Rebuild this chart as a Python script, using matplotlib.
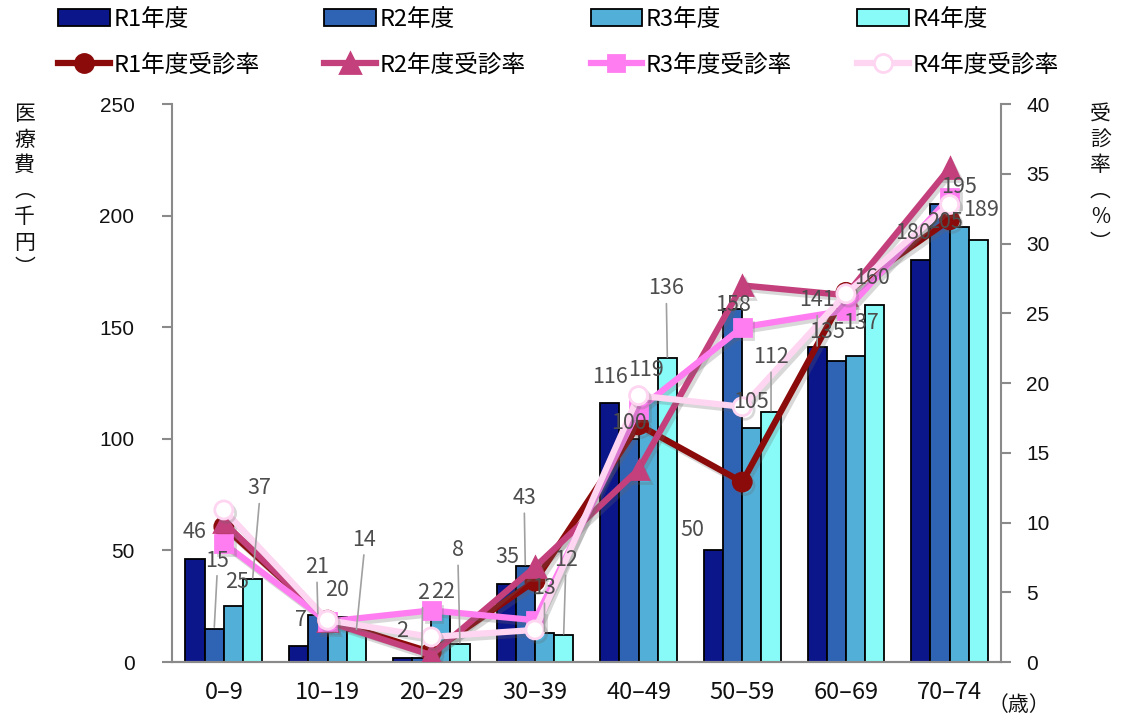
import matplotlib.pyplot as plt
import matplotlib.patheffects as pe
from matplotlib.lines import Line2D
import numpy as np

plt.rcParams['font.family'] = ['Noto Sans CJK JP', 'DejaVu Sans']

# data
ages = ['0–9', '10–19', '20–29', '30–39', '40–49', '50–59', '60–69', '70–74']
years = ['R1', 'R2', 'R3', 'R4']
cost_r1 = [46, 7, 2, 35, 116, 50, 141, 180]
cost_r2 = [15, 21, 2, 43, 100, 158, 135, 205]
cost_r3 = [25, 20, 22, 13, 119, 105, 137, 195]
cost_r4 = [37, 14, 8, 12, 136, 112, 160, 189]
rate_r1 = [9.7, 3.0, 0.7, 5.8, 17.0, 12.9, 26.5, 31.7]
rate_r2 = [10.0, 2.9, 0.5, 6.8, 13.8, 27.0, 26.3, 35.4]
rate_r3 = [8.5, 2.9, 3.7, 3.0, 18.1, 24.0, 25.2, 33.3]
rate_r4 = [10.9, 3.0, 1.8, 2.3, 19.1, 18.3, 26.4, 32.8]

costs = [cost_r1, cost_r2, cost_r3, cost_r4]
rates = [rate_r1, rate_r2, rate_r3, rate_r4]

bar_colors = ['#0b168a', '#2f63b3', '#52b0d8', '#88fbf8']
line_colors = ['#8b0a0a', '#c4407c', '#ff7df0', '#ffd6f2']
markers = ['o', '^', 's', 'o']
marker_faces = ['#8b0a0a', '#c4407c', '#ff7df0', 'white']
marker_sizes = [13, 14, 12, 13]

# label placement (dx, dy in pixels from bar top, leader line)
label_pos = [
    [(0, 27, 0), (2, 26, 0), (0, 27, 0), (1, 27, 0), (0, 26, 0), (-21, 20, 0), (0, 47, 1), (-8, 27, 0)],
    [(3, 68, 1), (-1, 48, 1), (1, 65, 1), (-1, 68, 1), (0, 16, 0), (0, 4, 0), (-9, 29, 0), (5, -18, 0)],
    [(4, 24, 0), (0, 27, 0), (2, 21, 0), (0, 45, 1), (-2, 26, 0), (-1, 26, 0), (5, 33, 0), (0, 40, 0)],
    [(7, 91, 1), (8, 91, 1), (-2, 94, 1), (2, 75, 1), (-1, 70, 1), (0, 55, 1), (-3, 27, 0), (3, 30, 0)],
]

fig = plt.figure(figsize=(11.24, 7.24), dpi=100)
ax = fig.add_axes([0.153, 0.0856, 0.738, 0.7707])
ax2 = ax.twinx()

x = np.arange(len(ages))
w = 0.185
bar_handles = []
for i in range(4):
    b = ax.bar(x + (i - 1.5) * w, costs[i], w, color=bar_colors[i], edgecolor='black',
               linewidth=1.3, label=years[i] + '年度', zorder=2)
    bar_handles.append(b)

line_handles = []
for i in range(4):
    style = dict(color=line_colors[i], lw=4.5, marker=markers[i], markersize=marker_sizes[i],
                 markerfacecolor=marker_faces[i], markeredgecolor=line_colors[i],
                 markeredgewidth=2)
    ax2.plot(x, rates[i], zorder=3 + i, **style,
             path_effects=[pe.SimpleLineShadow(offset=(2, -2.5), shadow_color='#666666', alpha=0.25),
                           pe.Normal()])
    line_handles.append(Line2D([], [], label=years[i] + '年度受診率', **style))

# data labels
for i in range(4):
    for j in range(len(ages)):
        dx, dy, lead = label_pos[i][j]
        xb = x[j] + (i - 1.5) * w
        arrow = None
        if lead:
            arrow = dict(arrowstyle='-', color='#a0a0a0', lw=1.2, shrinkA=1, shrinkB=1,
                         relpos=(0.5, 0.0))
        ax2.annotate(str(costs[i][j]), xy=(xb, costs[i][j]), xycoords=ax.transData,
                     xytext=(dx, dy), textcoords='offset pixels', ha='center', va='center',
                     fontsize=15.5, color='#4d4d4d', arrowprops=arrow, zorder=10)

ax.set_xlim(-0.5, 7.5)
ax.set_ylim(0, 250)
ax2.set_ylim(0, 40)
ax.set_yticks(np.arange(0, 251, 50))
ax2.set_yticks(np.arange(0, 41, 5))
ax.set_xticks(x)
ax.set_xticklabels(ages, fontsize=17, color='#111111')

for a in (ax, ax2):
    a.spines['top'].set_visible(False)
    for s in ('left', 'right', 'bottom'):
        a.spines[s].set_color('#8a8a8a')
        a.spines[s].set_linewidth(1.5)
ax.spines['right'].set_visible(False)
ax2.spines['left'].set_visible(False)
ax.tick_params(axis='x', length=0, pad=14)
ax.tick_params(axis='y', direction='out', length=7, width=1.5, color='#8a8a8a', pad=20,
               labelsize=15, labelcolor='#111111')
ax2.tick_params(axis='y', direction='out', length=7, width=1.5, color='#8a8a8a', pad=11,
                labelsize=15, labelcolor='#111111')
for lab in ax.get_yticklabels() + ax2.get_yticklabels():
    lab.set_fontfamily(['Liberation Sans', 'DejaVu Sans'])

# axis titles (vertical)
fig.text(0.022, 0.858, '医\n療\n費\n︵\n千\n円\n︶', ha='center', va='top', fontsize=15,
         linespacing=1.22, color='#111111')
fig.text(0.979, 0.858, '受\n診\n率\n︵\n%\n︶', ha='center', va='top', fontsize=15,
         linespacing=1.22, color='#111111')
fig.text(0.906, 0.026, '（歳）', ha='center', va='center', fontsize=15, color='#111111')

handles = []
for i in range(4):
    handles += [bar_handles[i], line_handles[i]]
leg = fig.legend(handles=handles, loc='upper left', bbox_to_anchor=(0.043, 1.002), ncol=4,
                 frameon=False, fontsize=17, handlelength=2.2, handletextpad=0.15,
                 columnspacing=2.74, labelspacing=0.95, borderaxespad=0)

fig.savefig('out.png', dpi=100)
